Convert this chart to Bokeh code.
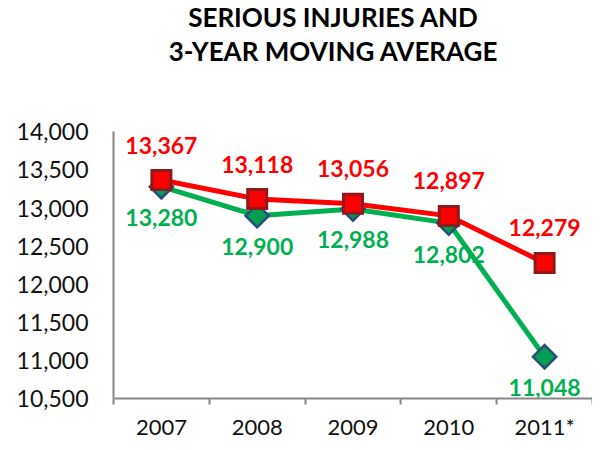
from bokeh.plotting import figure
from bokeh.models import (ColumnDataSource, LabelSet, Label, Range1d, FixedTicker,
                          NumeralTickFormatter)
from bokeh.core.properties import value
from bokeh.embed import file_html
from bokeh.resources import INLINE
import math

years = ["2007", "2008", "2009", "2010", "2011*"]
serious_injuries = [13280, 12900, 12988, 12802, 11048]
moving_average = [13367, 13118, 13056, 12897, 12279]
y_ticks = [10500, 11000, 11500, 12000, 12500, 13000, 13500, 14000]
title_lines = ["SERIOUS INJURIES AND", "3-YEAR MOVING AVERAGE"]

FONT = "Lato"
RED = "#FF0000"
GREEN = "#00B050"
AXIS = "#868686"

# frame spans the full height down to the x axis; the value axis occupies
# the lower 268 px, the title the upper 132 px
FRAME_H = 400
AXIS_H = 268
span = y_ticks[-1] - y_ticks[0]
y_top = y_ticks[-1] + span * (FRAME_H - AXIS_H) / AXIS_H

xs = list(range(1, len(years) + 1))
src_g = ColumnDataSource(dict(x=xs, y=serious_injuries,
                              t=[f"{v:,}" for v in serious_injuries]))
src_r = ColumnDataSource(dict(x=xs, y=moving_average,
                              t=[f"{v:,}" for v in moving_average]))

p = figure(width=592, height=442, output_backend="svg", toolbar_location=None,
           x_range=Range1d(0.5, len(years) + 0.5),
           y_range=Range1d(y_ticks[0], y_top),
           min_border_left=113, min_border_right=0, min_border_top=0,
           min_border_bottom=42)
p.outline_line_color = None
p.xgrid.visible = False
p.ygrid.visible = False
p.background_fill_color = "white"
p.border_fill_color = "white"

# green series (drawn first)
p.line("x", "y", source=src_g, line_color=GREEN, line_width=5)
p.scatter("x", "y", source=src_g, marker="square", size=19, angle=math.pi / 4,
          fill_color="#2B4C7E", line_color=None)
p.scatter("x", "y", source=src_g, marker="square", size=14, angle=math.pi / 4,
          fill_color="#00A050", line_color=None)
# red series
p.line("x", "y", source=src_r, line_color=RED, line_width=5)
p.scatter("x", "y", source=src_r, marker="square", size=22,
          fill_color="#8E1B1B", line_color=None)
p.scatter("x", "y", source=src_r, marker="square", size=16,
          fill_color="#FF0000", line_color=None)

p.add_layout(LabelSet(x="x", y="y", text="t", source=src_r, y_offset=35,
                      text_align="center", text_baseline="middle",
                      text_color=RED, text_font=value(FONT), text_font_style="bold",
                      text_font_size="23px"))
p.add_layout(LabelSet(x="x", y="y", text="t", source=src_g, y_offset=-31,
                      text_align="center", text_baseline="middle",
                      text_color=GREEN, text_font=value(FONT), text_font_style="bold",
                      text_font_size="23px"))

# axes
p.yaxis.ticker = FixedTicker(ticks=y_ticks)
p.yaxis.bounds = (y_ticks[0], y_ticks[-1])
p.yaxis.formatter = NumeralTickFormatter(format="0,0")
p.yaxis.major_tick_out = 0
p.yaxis.major_tick_in = 0
p.yaxis.minor_tick_out = 0
p.yaxis.minor_tick_in = 0
p.yaxis.axis_line_color = AXIS
p.yaxis.axis_line_width = 2
p.yaxis.major_label_standoff = 25
p.yaxis.major_label_text_font = FONT
p.yaxis.major_label_text_font_size = "23px"
p.yaxis.major_label_text_color = "#111111"

p.xaxis.ticker = FixedTicker(ticks=xs, minor_ticks=[x - 0.5 for x in xs] + [xs[-1] + 0.5])
p.xaxis.major_label_overrides = {x: y for x, y in zip(xs, years)}
p.xaxis.major_tick_out = 0
p.xaxis.major_tick_in = 0
p.xaxis.minor_tick_out = 6
p.xaxis.minor_tick_in = 0
p.xaxis.minor_tick_line_color = AXIS
p.xaxis.minor_tick_line_width = 2
p.xaxis.axis_line_color = AXIS
p.xaxis.axis_line_width = 2
p.xaxis.major_label_standoff = 8
p.xaxis.major_label_text_font = FONT
p.xaxis.major_label_text_font_size = "22px"
p.xaxis.major_label_text_color = "#111111"

# two-line title inside the (extended) frame, above the value area
for line, sy in zip(title_lines, [382, 348]):
    p.add_layout(Label(x=2.796, y=sy, x_units="data", y_units="screen",
                       text=line, text_align="center", text_baseline="middle",
                       text_font=FONT, text_font_style="bold",
                       text_font_size="26px", text_color="#000000"))

open("out.html", "w").write(file_html(p, INLINE))
